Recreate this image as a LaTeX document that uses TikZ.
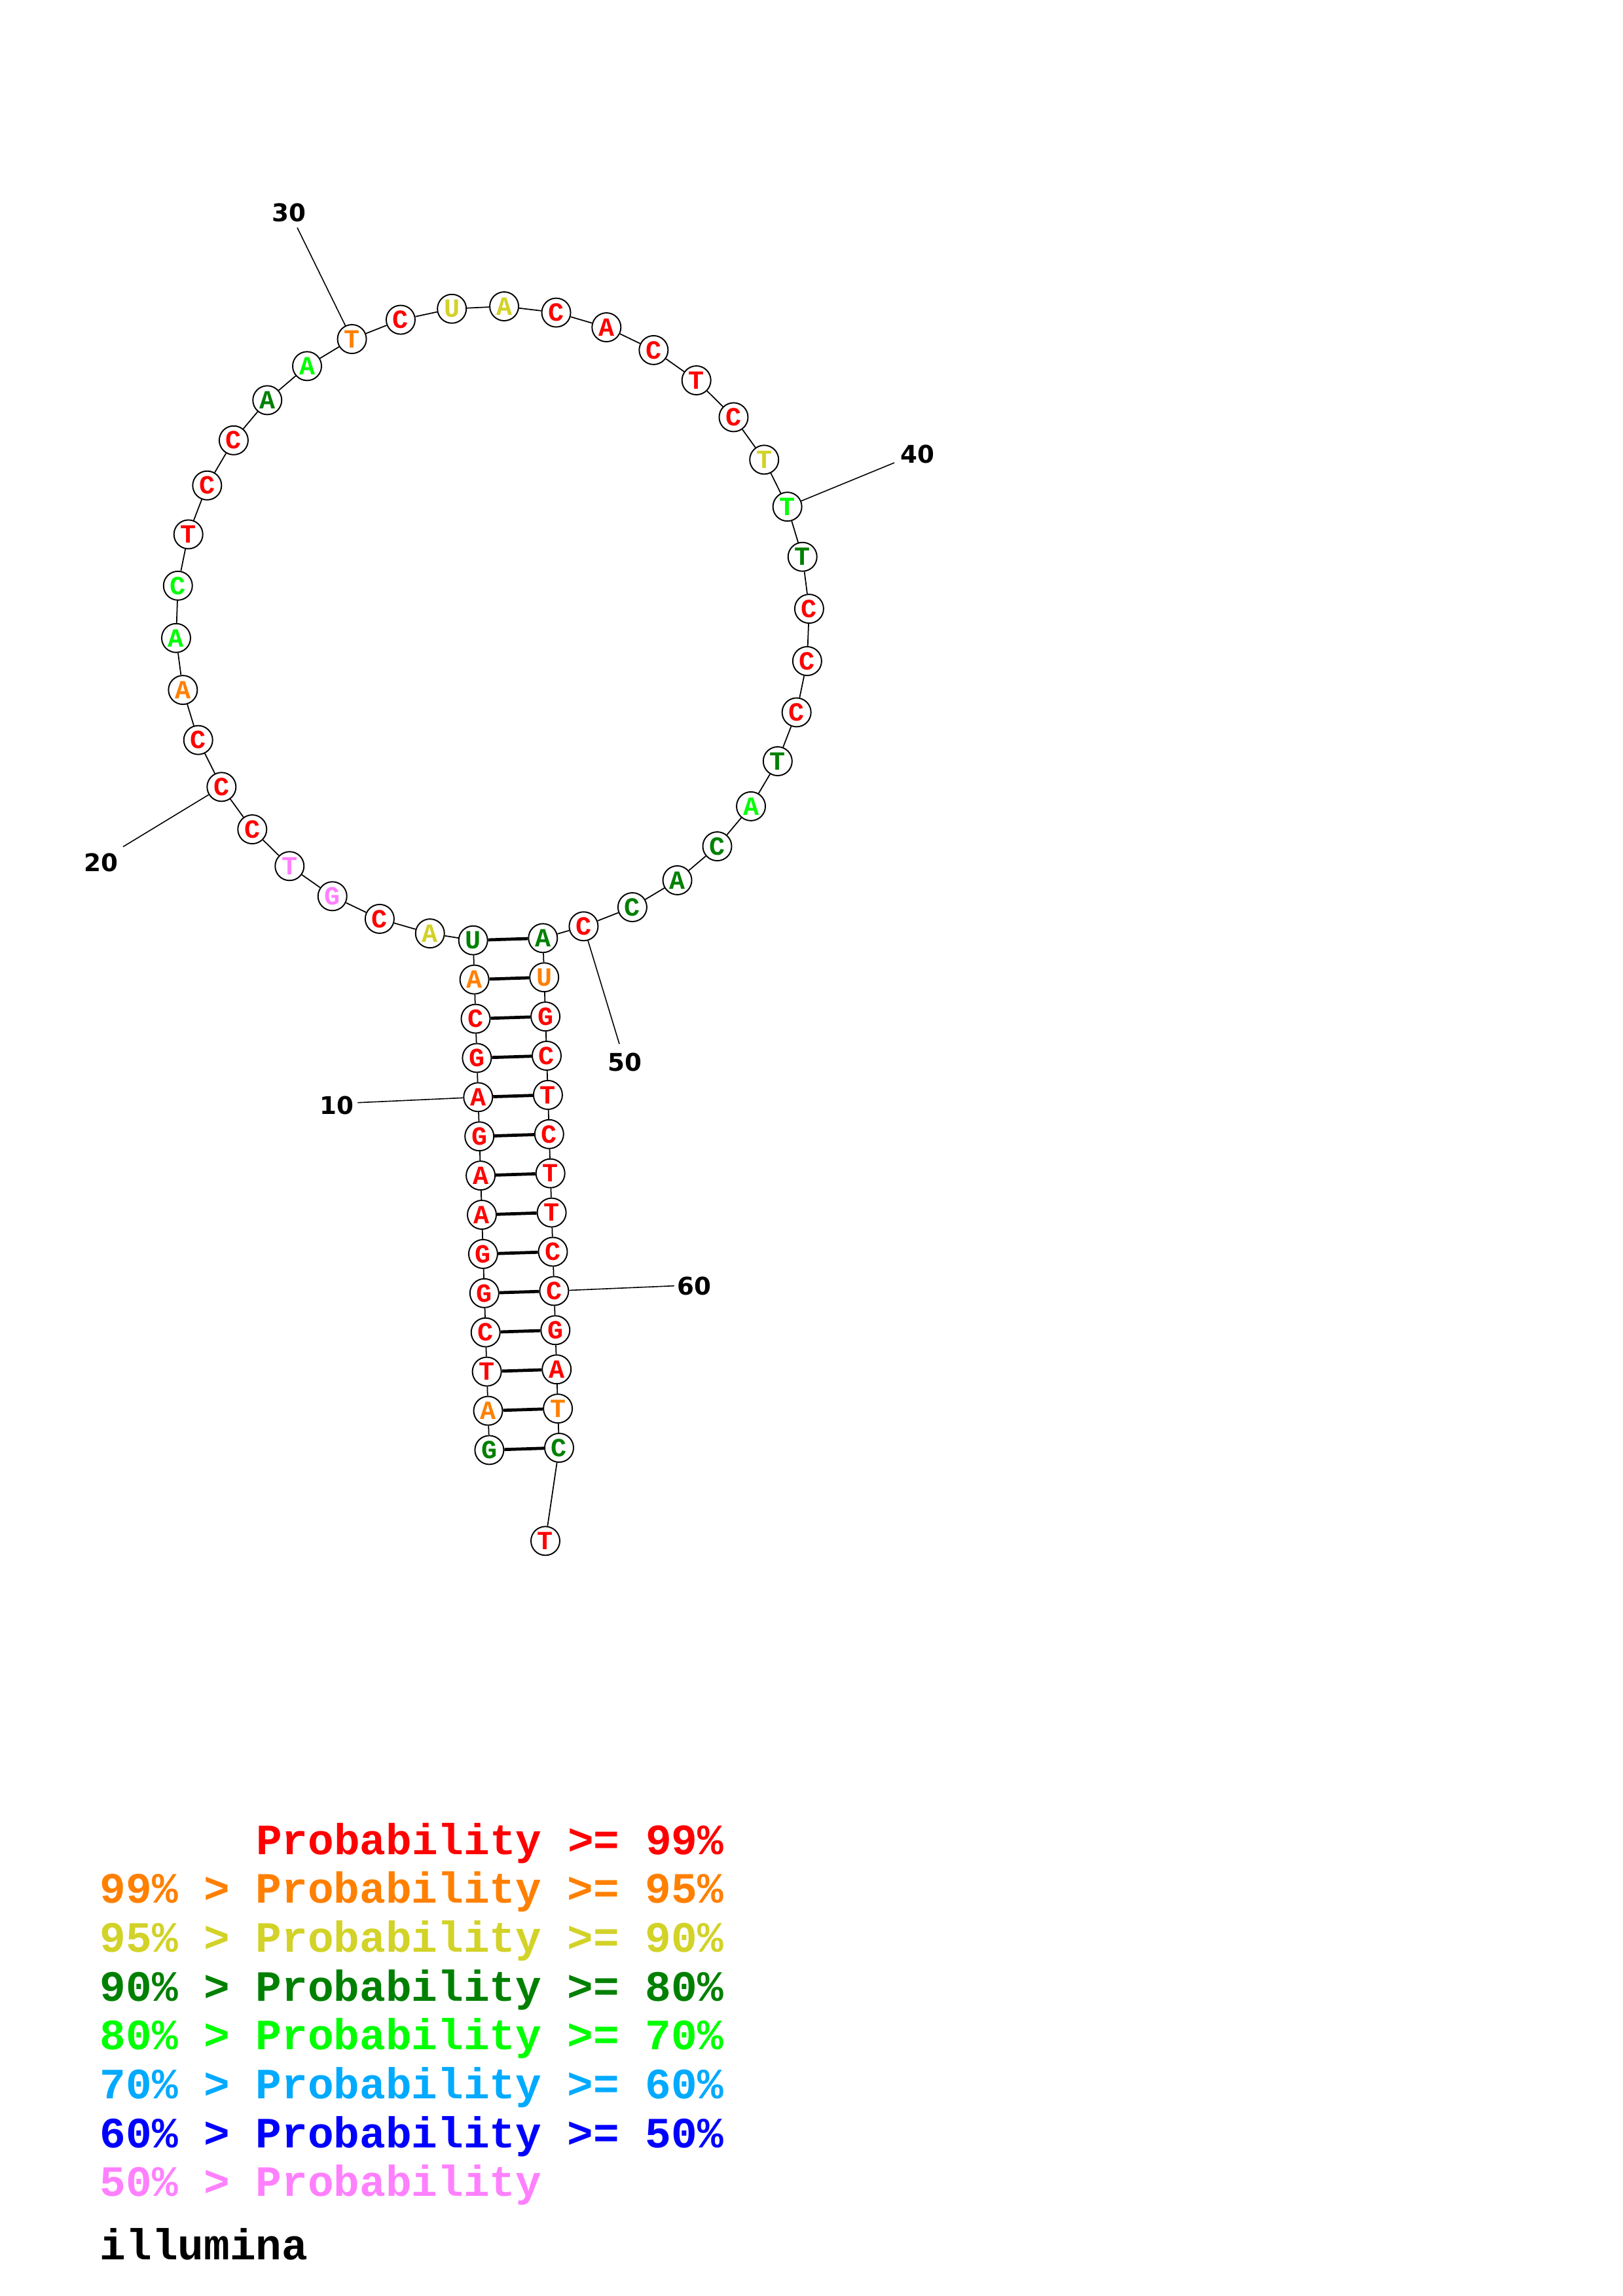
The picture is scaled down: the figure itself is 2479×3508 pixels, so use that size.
\documentclass[tikz,border=0pt]{standalone}
\usepackage{fontspec}
\setmonofont{Liberation Mono}
\newfontfamily\numfont{DejaVu Sans}
\definecolor{cR}{RGB}{255,0,0}
\definecolor{cO}{RGB}{255,128,0}
\definecolor{cY}{RGB}{210,210,40}
\definecolor{cG}{RGB}{0,128,0}
\definecolor{cL}{RGB}{0,255,0}
\definecolor{cB}{RGB}{0,170,255}
\definecolor{cN}{RGB}{0,0,255}
\definecolor{cP}{RGB}{255,128,255}
\begin{document}
\begin{tikzpicture}[x=0.01cm,y=-0.01cm,
  nt/.style={circle,draw=black,line width=0.55pt,fill=white,minimum size=0.44cm,inner sep=0pt,
    font=\fontsize{11.4}{12}\selectfont\ttfamily\bfseries},
  bb/.style={line width=0.5pt},
  bp/.style={line width=1.35pt},
  ll/.style={line width=0.45pt},
  lbl/.style={inner sep=0pt,font=\fontsize{10.6}{12}\selectfont\numfont\bfseries},
  leg/.style={anchor=base west,inner sep=0pt,font=\fontsize{18.8}{20}\selectfont\ttfamily\bfseries}]
\useasboundingbox (0,0) rectangle (2479,3508);
\coordinate (ctr) at (752.4,951.7);
% left strand of the stem
\foreach \i/\l/\c in {1/G/cG,2/A/cO,3/T/cR,4/C/cR,5/G/cR,6/G/cR,7/A/cR,8/A/cR,9/G/cR,10/A/cR,11/G/cR,12/C/cR,13/A/cO,14/U/cG}{
  \pgfmathsetmacro\xx{722.7+1.9*(14-\i)}
  \pgfmathsetmacro\yy{1436.7+59.9*(14-\i)}
  \node[nt,text=\c] (n\i) at (\xx,\yy) {\l};
}
% loop
\foreach \i/\l/\c in {15/A/cY,16/C/cR,17/G/cP,18/T/cP,19/C/cR,20/C/cR,21/C/cR,22/A/cO,23/A/cL,24/C/cL,
  25/T/cR,26/C/cR,27/C/cR,28/A/cG,29/A/cL,30/T/cO,31/C/cR,32/U/cY,33/A/cY,34/C/cR,35/A/cR,36/C/cR,
  37/T/cR,38/C/cR,39/T/cY,40/T/cL,41/T/cG,42/C/cR,43/C/cR,44/C/cR,45/T/cG,46/A/cL,47/C/cG,48/A/cG,
  49/C/cG,50/C/cR}{
  \pgfmathsetmacro\aa{101.4+9.483*(\i-15)}
  \node[nt,text=\c] (n\i) at ([shift={(\aa:484)}]ctr) {\l};
}
% right strand of the stem
\foreach \i/\l/\c in {51/A/cG,52/U/cO,53/G/cR,54/C/cR,55/T/cR,56/C/cR,57/T/cR,58/T/cR,59/C/cR,60/C/cR,61/G/cR,62/A/cR,63/T/cO,64/C/cG}{
  \pgfmathsetmacro\xx{829.3+1.9*(\i-51)}
  \pgfmathsetmacro\yy{1433.3+59.9*(\i-51)}
  \node[nt,text=\c] (n\i) at (\xx,\yy) {\l};
}
\node[nt,text=cR] (n65) at (833,2354.3) {T};
% backbone
\foreach \i in {1,...,64}{
  \pgfmathtruncatemacro\j{\i+1}
  \draw[bb] (n\i) -- (n\j);
}
% base pairs
\foreach \i in {1,...,14}{
  \pgfmathtruncatemacro\j{65-\i}
  \draw[bp] (n\i) -- (n\j);
}
% position labels
\coordinate (e10) at (546.4,1684.7);
\node[lbl] (t10) at (514.3,1689.4) {10};
\draw[ll] (n10) -- (e10);
\coordinate (e20) at (188,1293.7);
\node[lbl] (t20) at (154.4,1317.8) {20};
\draw[ll] (n20) -- (e20);
\coordinate (e30) at (454,347.7);
\node[lbl] (t30) at (441.7,325) {30};
\draw[ll] (n30) -- (e30);
\coordinate (e40) at (1366,707);
\node[lbl] (t40) at (1401,694) {40};
\draw[ll] (n40) -- (e40);
\coordinate (e50) at (946,1595);
\node[lbl] (t50) at (954,1623) {50};
\draw[ll] (n50) -- (e50);
\coordinate (e60) at (1029.9,1964.6);
\node[lbl] (t60) at (1060.7,1964.6) {60};
\draw[ll] (n60) -- (e60);
% legend
\node[leg,text=cR] (g1) at (390.3,2833) {Probability >= 99\%};
\node[leg,text=cO] (g2) at (152,2907.7) {99\% > Probability >= 95\%};
\node[leg,text=cY] (g3) at (152,2982.4) {95\% > Probability >= 90\%};
\node[leg,text=cG] (g4) at (152,3057.1) {90\% > Probability >= 80\%};
\node[leg,text=cL] (g5) at (152,3131.8) {80\% > Probability >= 70\%};
\node[leg,text=cB] (g6) at (152,3206.5) {70\% > Probability >= 60\%};
\node[leg,text=cN] (g7) at (152,3281.2) {60\% > Probability >= 50\%};
\node[leg,text=cP] (g8) at (152,3355.9) {50\% > Probability};
\node[leg,text=black] (g9) at (152,3452) {illumina};
\end{tikzpicture}
\end{document}
